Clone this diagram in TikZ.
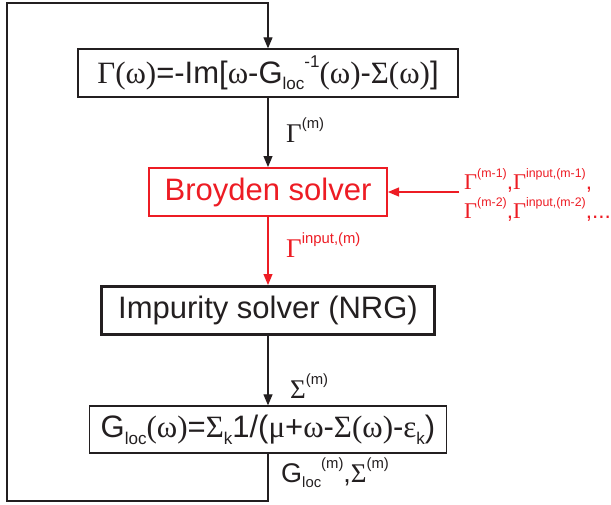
\documentclass[tikz,border=0pt]{standalone}
\usepackage{fontspec}
\setmainfont{Liberation Sans}
\newfontfamily\grk{Liberation Serif}
\usetikzlibrary{arrows.meta}
\definecolor{myred}{RGB}{237,28,36}
\definecolor{ink}{RGB}{35,31,32}
\newcommand\gk[1]{{\grk #1}}
\newcommand\sbx[1]{\raisebox{-0.22em}{\scalebox{0.55}{#1}}}
\newcommand\spx[1]{\raisebox{0.5em}{\scalebox{0.55}{#1}}}
\tikzset{
  x=1pt,y=-1pt,
  box/.style={draw=ink,text=ink,line width=1.3pt,inner sep=0pt,font=\fontsize{31}{36}\selectfont},
  redbox/.style={box,draw=myred,text=myred,line width=2pt},
  thickbox/.style={box,line width=3pt},
  lab/.style={inner sep=0pt,anchor=base west,text=ink,font=\fontsize{27}{32}\selectfont},
  redlab/.style={lab,text=myred},
  listlab/.style={redlab,font=\fontsize{22.5}{27}\selectfont},
  arr/.style={draw=ink,line width=1.2pt,-{Triangle[length=11pt,width=9pt]}},
  redarr/.style={arr,draw=myred,fill=myred},
}
\begin{document}
\begin{tikzpicture}
\useasboundingbox (0,0) rectangle (611,504);
\node[box,minimum width=380,minimum height=48] (b1) at (268,73)
  {\gk{Γ(ω)}=-Im[\gk{ω}-G\sbx{loc}\spx{-1}\gk{(ω)}-\gk{Σ(ω)}]};
\node[redbox,minimum width=238,minimum height=48] (br) at (268,192) {Broyden solver};
\node[thickbox,minimum width=333,minimum height=48] (im) at (268,310.5) {Impurity solver (NRG)};
\node[box,minimum width=357,minimum height=47] (gl) at (268,429.5)
  {G\sbx{loc}\gk{(ω)}=\gk{Σ}\sbx{k}1/(\gk{μ}+\gk{ω}-\gk{Σ(ω)}-\gk{ε}\sbx{k})};
\coordinate (c1) at (268,501);
\coordinate (c2) at (7,501);
\coordinate (c3) at (7,3);
\coordinate (c4) at (268,3);
\coordinate (rs) at (459,192);
\draw[arr] (b1) -- (br);
\draw[redarr] (br) -- (im);
\draw[arr] (im) -- (gl);
\draw[arr] (gl.south) -- (c1) -- (c2) -- (c3) -- (c4) -- (b1.north);
\draw[redarr] (rs) -- (br.east);
\node[lab] (l1) at (286,142) {\gk{Γ}\spx{(m)}};
\node[redlab] (l2) at (286,257) {\gk{Γ}\spx{input,(m)}};
\node[lab] (l3) at (290,398) {\gk{Σ}\spx{(m)}};
\node[lab] (l4) at (281,482) {G\sbx{loc}\spx{(m)},\gk{Σ}\spx{(m)}};
\node[listlab] (r1) at (464,189) {\gk{Γ}\spx{(m-1)},\gk{Γ}\spx{input,(m-1)},};
\node[listlab] (r2) at (464,218) {\gk{Γ}\spx{(m-2)},\gk{Γ}\spx{input,(m-2)},...};
\end{tikzpicture}
\end{document}
